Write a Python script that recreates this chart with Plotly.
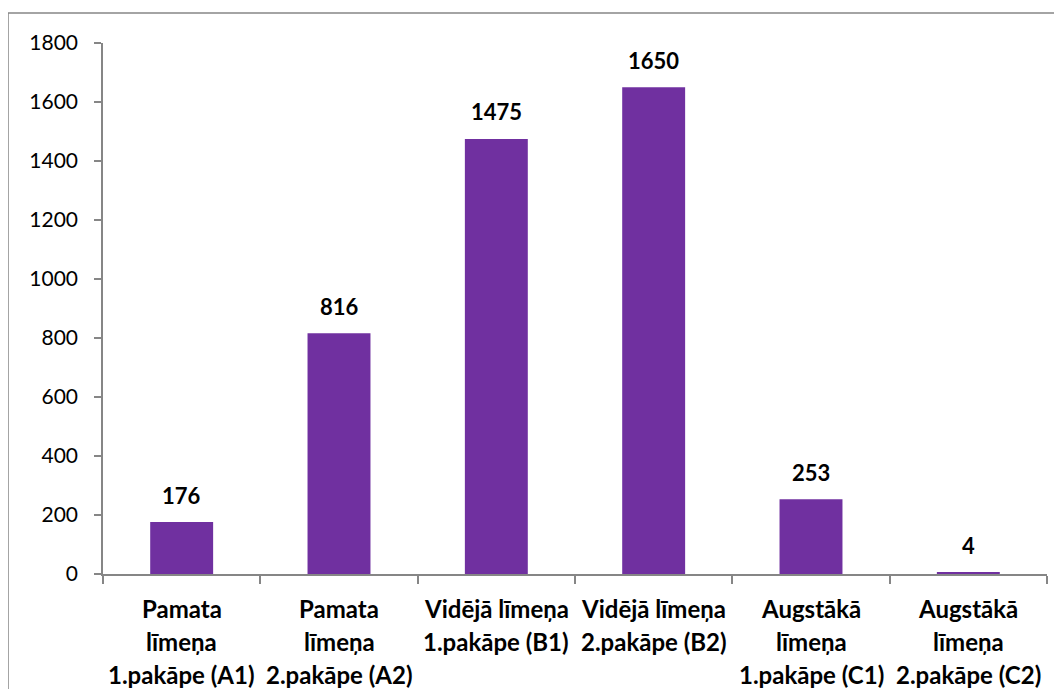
import plotly.graph_objects as go

categories = ["A1", "A2", "B1", "B2", "C1", "C2"]
label_lines = [
    ["Pamata", "līmeņa", "1.pakāpe (A1)"],
    ["Pamata", "līmeņa", "2.pakāpe (A2)"],
    ["Vidējā līmeņa", "1.pakāpe (B1)", ""],
    ["Vidējā līmeņa", "2.pakāpe (B2)", ""],
    ["Augstākā", "līmeņa", "1.pakāpe (C1)"],
    ["Augstākā", "līmeņa", "2.pakāpe (C2)"],
]
values = [176, 816, 1475, 1650, 253, 4]
y_ticks = [0, 200, 400, 600, 800, 1000, 1200, 1400, 1600, 1800]

FONT = "Lato, Carlito, Calibri, sans-serif"
GREY = "#868686"

fig = go.Figure(go.Bar(
    x=categories, y=values,
    marker=dict(color="#7030A0", line=dict(width=0)),
    width=0.4,
))

# page has an 8px body margin, so figure coords = screen coords - 8
OFF = 8
W, H = 1046, 681
L = 103 - OFF
T = 43 - OFF
R = W - (1047 - OFF)
B = H - (574 - OFF)
pw, ph = W - L - R, H - T - B

annotations = []
for cat, v in zip(categories, values):
    annotations.append(dict(
        x=cat, y=v, xref="x", yref="y", text=f"<b>{v}</b>",
        showarrow=False, yanchor="middle", yshift=27,
        font=dict(family=FONT, size=22, color="#000000")))

line_centers = [608, 641, 674]  # screen px
for cat, lines in zip(categories, label_lines):
    for py, txt in zip(line_centers, lines):
        if not txt:
            continue
        annotations.append(dict(
            x=cat, xref="x", yref="paper", y=(574 - py) / ph,
            text=f"<b>{txt}</b>", showarrow=False, yanchor="middle",
            font=dict(family=FONT, size=24, color="#000000")))

fig.update_layout(
    width=W, height=H,
    margin=dict(l=L, r=R, t=T, b=B, pad=0),
    paper_bgcolor="white", plot_bgcolor="white",
    showlegend=False,
    font=dict(family=FONT, size=21, color="#000000"),
    annotations=annotations,
    shapes=[dict(
        type="rect", xref="paper", yref="paper",
        x0=(8 - 103) / pw, x1=(1075 - 103) / pw,
        y0=-(720 - 574) / ph, y1=1 + (43 - 13) / ph,
        line=dict(color=GREY, width=1.5), fillcolor="rgba(0,0,0,0)",
        layer="below")],
)

fig.update_xaxes(
    showticklabels=False, showgrid=False, zeroline=False,
    showline=True, linecolor=GREY, linewidth=1.5,
    ticks="outside", tickson="boundaries", ticklen=8,
    tickcolor=GREY, tickwidth=1.5,
)
fig.update_yaxes(
    range=[0, 1800], tickvals=y_ticks, showgrid=False, zeroline=False,
    showline=True, linecolor=GREY, linewidth=1.5,
    ticks="outside", ticklen=7, tickcolor=GREY, tickwidth=1.5,
    ticklabelstandoff=12,
    tickfont=dict(family=FONT, size=21, color="#000000"),
)

fig.write_html("out.html")
